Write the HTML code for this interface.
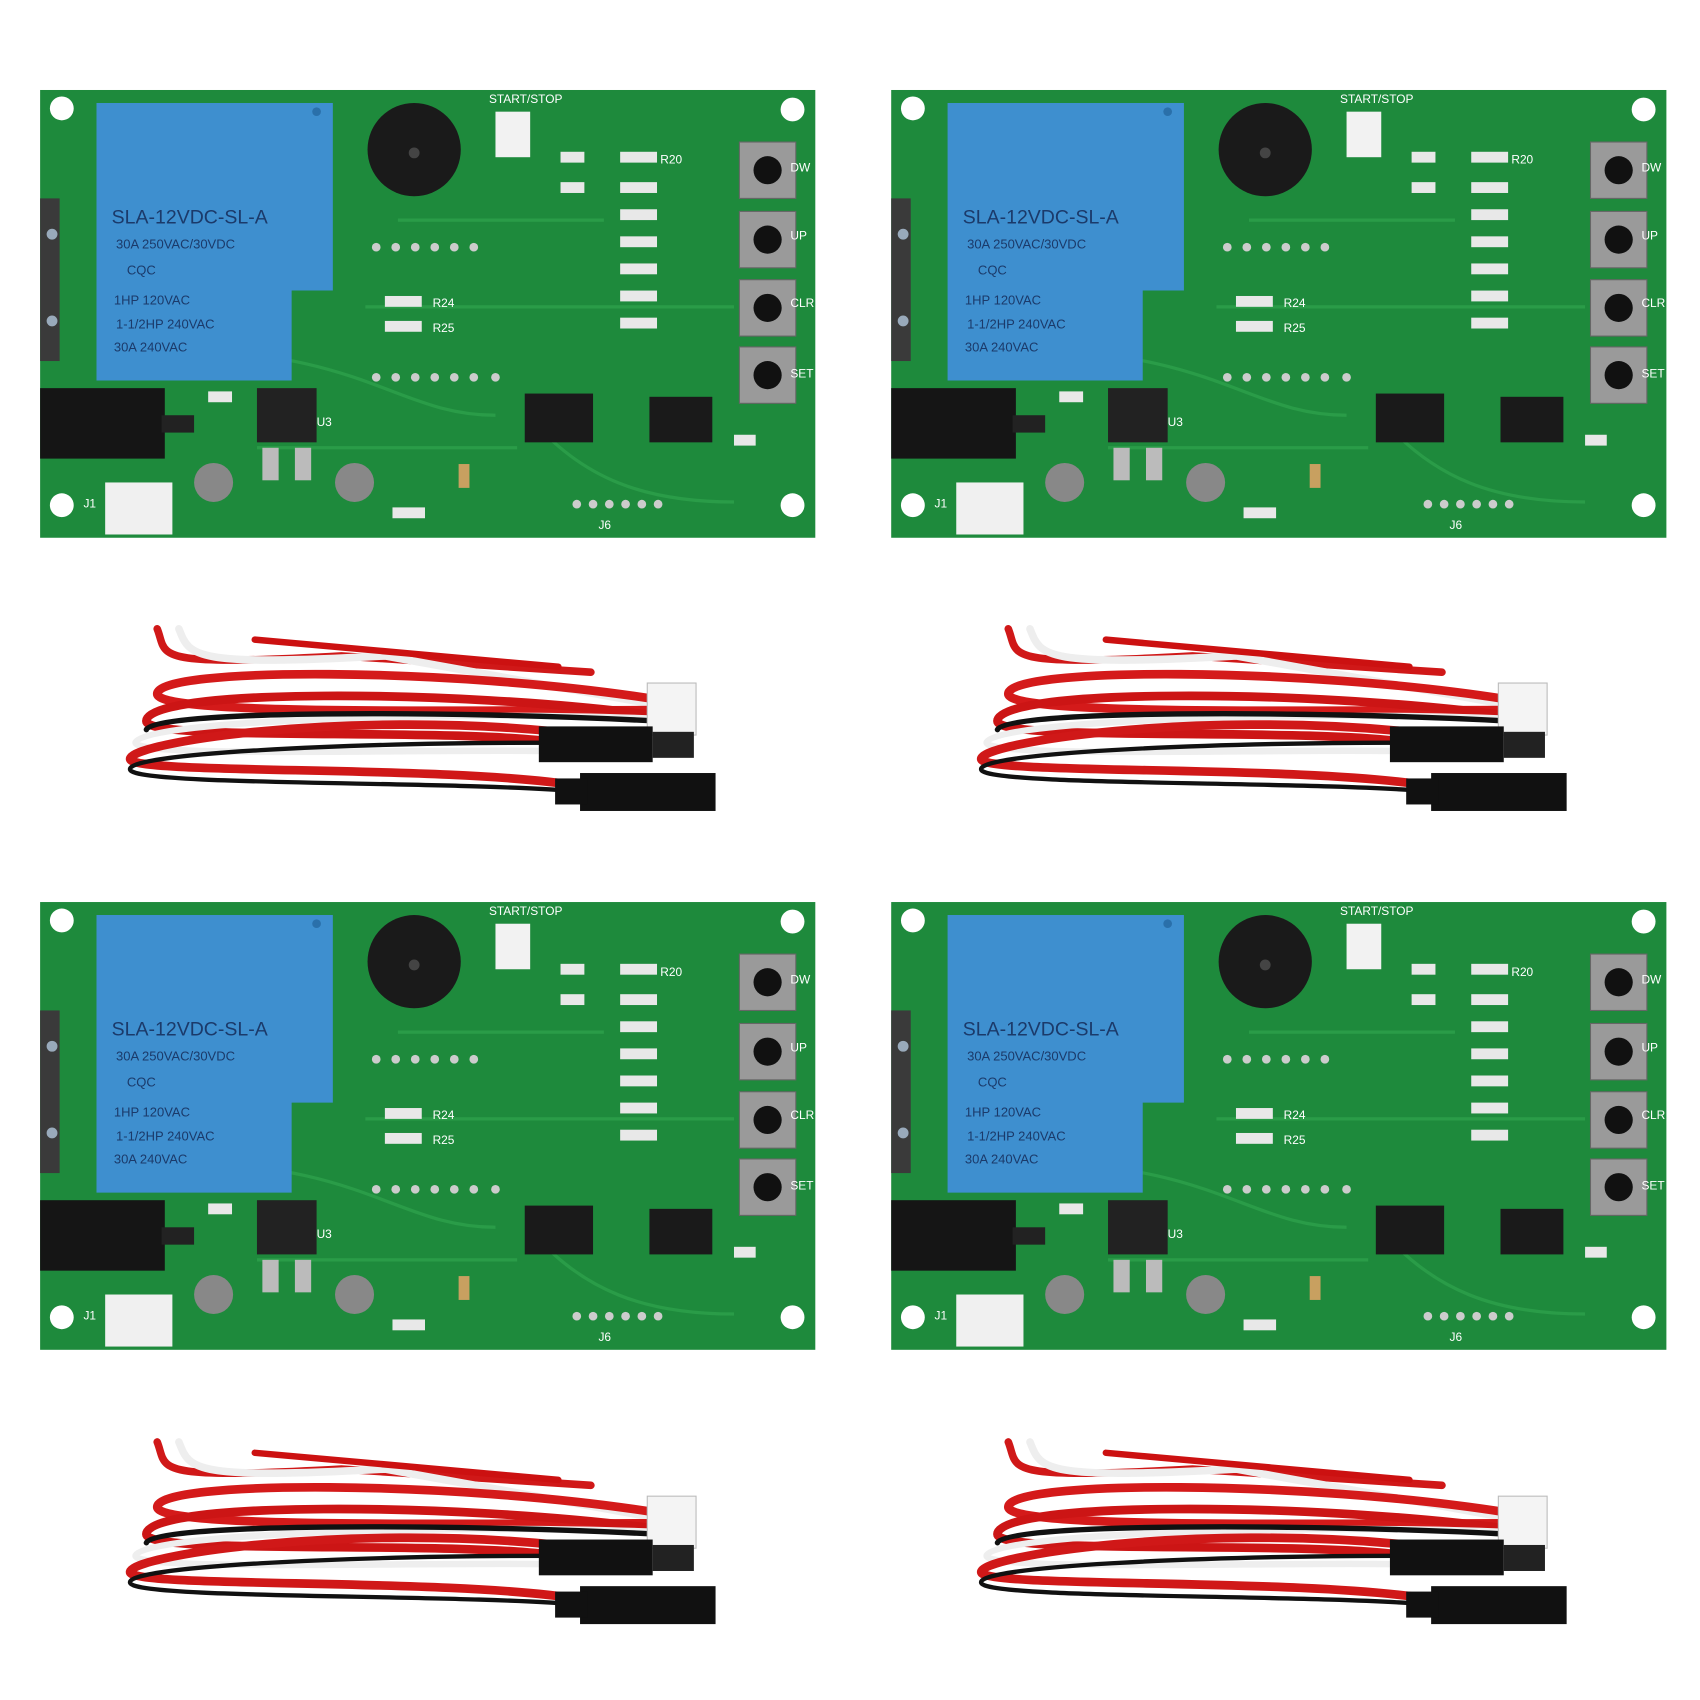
<!DOCTYPE html>
<html><head><meta charset="utf-8"><style>
html,body{margin:0;padding:0;background:#fff;}
svg{display:block}
text{font-family:"Liberation Sans",sans-serif}
</style></head><body>
<svg width="1700" height="1700" viewBox="0 0 1568 1568" xmlns="http://www.w3.org/2000/svg">
<defs>
<g id="boardshapes">
<rect x="0" y="0" width="715" height="413" fill="#1e8a3c"/>
<path d="M120 240 C300 240 330 300 420 300 M300 200 L640 200 M330 120 L520 120 M450 300 C500 360 560 380 640 380 M200 330 L440 330" stroke="#2a9c48" stroke-width="3" fill="none"/>
<circle cx="20" cy="17" r="11" fill="#fff"/><circle cx="694" cy="18" r="11" fill="#fff"/>
<circle cx="20" cy="383" r="11" fill="#fff"/><circle cx="694" cy="383" r="11" fill="#fff"/>
<rect x="0" y="100" width="18" height="150" fill="#3a3a3a"/>
<circle cx="11" cy="133" r="5" fill="#9ab"/><circle cx="11" cy="213" r="5" fill="#9ab"/>
<path d="M52 12 L270 12 L270 185 L232 185 L232 268 L52 268 Z" fill="#3e8fcf"/>
<circle cx="255" cy="20" r="4" fill="#2a70aa"/>
<circle cx="345" cy="55" r="43" fill="#1a1a1a"/><circle cx="345" cy="58" r="5" fill="#444"/>
<rect x="420" y="20" width="32" height="42" fill="#f2f2f2"/>
<g fill="#9a9a9a" stroke="#666"><rect x="645" y="48" width="52" height="52"/><rect x="645" y="112" width="52" height="52"/><rect x="645" y="175" width="52" height="52"/><rect x="645" y="237" width="52" height="52"/></g>
<g fill="#111"><circle cx="671" cy="74" r="13"/><circle cx="671" cy="138" r="13"/><circle cx="671" cy="201" r="13"/><circle cx="671" cy="263" r="13"/></g>
<g fill="#e8e8e8"><rect x="480" y="57" width="22" height="10"/><rect x="535" y="57" width="34" height="10"/><rect x="480" y="85" width="22" height="10"/><rect x="535" y="85" width="34" height="10"/><rect x="535" y="110" width="34" height="10"/><rect x="535" y="135" width="34" height="10"/><rect x="535" y="160" width="34" height="10"/><rect x="535" y="185" width="34" height="10"/><rect x="535" y="210" width="34" height="10"/><rect x="318" y="190" width="34" height="10"/><rect x="318" y="213" width="34" height="10"/><rect x="640" y="318" width="20" height="10"/><rect x="155" y="278" width="22" height="10"/><rect x="325" y="385" width="30" height="10"/></g>
<g fill="#ccc"><circle cx="310" cy="145" r="4"/><circle cx="328" cy="145" r="4"/><circle cx="346" cy="145" r="4"/><circle cx="364" cy="145" r="4"/><circle cx="382" cy="145" r="4"/><circle cx="400" cy="145" r="4"/><circle cx="310" cy="265" r="4"/><circle cx="328" cy="265" r="4"/><circle cx="346" cy="265" r="4"/><circle cx="364" cy="265" r="4"/><circle cx="382" cy="265" r="4"/><circle cx="400" cy="265" r="4"/><circle cx="420" cy="265" r="4"/><circle cx="495" cy="382" r="4"/><circle cx="510" cy="382" r="4"/><circle cx="525" cy="382" r="4"/><circle cx="540" cy="382" r="4"/><circle cx="555" cy="382" r="4"/><circle cx="570" cy="382" r="4"/></g>
<rect x="447" y="280" width="63" height="45" fill="#1a1a1a"/>
<rect x="562" y="283" width="58" height="42" fill="#1a1a1a"/>
<rect x="0" y="275" width="115" height="65" fill="#151515"/>
<rect x="60" y="362" width="62" height="48" fill="#f0f0f0"/>
<rect x="200" y="275" width="55" height="50" fill="#222"/>
<rect x="205" y="330" width="15" height="30" fill="#bbb"/><rect x="235" y="330" width="15" height="30" fill="#bbb"/>
<circle cx="160" cy="362" r="18" fill="#888"/><circle cx="290" cy="362" r="18" fill="#888"/>
<rect x="112" y="300" width="30" height="16" fill="#222"/>
<rect x="386" y="345" width="10" height="22" fill="#c8a060"/>
</g>
<g id="wireshapes" fill="none" stroke-linecap="round">
<path d="M30 5 C40 30 20 40 200 30 L430 45" stroke="#d01818" stroke-width="7"/>
<path d="M50 5 C60 30 60 40 240 30 L490 75" stroke="#eee" stroke-width="7"/>
<path d="M120 15 L400 40" stroke="#c11" stroke-width="6"/>
<path d="M490 70 C300 40 30 40 30 65 C30 85 300 80 490 80" stroke="#d41a1a" stroke-width="8"/>
<path d="M490 85 C300 60 20 60 20 90 C20 110 300 95 400 110" stroke="#cc1515" stroke-width="8"/>
<path d="M490 88 C300 80 10 90 10 110 C10 125 300 115 400 118" stroke="#eee" stroke-width="6"/>
<path d="M400 100 C200 80 5 110 5 125 C5 140 300 130 420 150" stroke="#d01818" stroke-width="8"/>
<path d="M490 90 C300 80 25 80 20 98" stroke="#111" stroke-width="5"/>
<path d="M400 110 C200 110 0 120 5 135 C10 150 300 145 420 155" stroke="#111" stroke-width="4"/>
<rect x="482" y="55" width="45" height="48" fill="#f4f4f4" stroke="#bbb"/>
<rect x="382" y="95" width="105" height="33" fill="#111"/><rect x="487" y="100" width="38" height="24" fill="#222"/>
<rect x="420" y="138" width="125" height="35" fill="#111"/><rect x="397" y="143" width="30" height="24" fill="#111"/>
</g>
</defs>
<g transform="translate(37,83)"><use href="#boardshapes"/></g>
<g transform="translate(822,83)"><use href="#boardshapes"/></g>
<g transform="translate(37,832)"><use href="#boardshapes"/></g>
<g transform="translate(822,832)"><use href="#boardshapes"/></g>
<g transform="translate(115,575)"><use href="#wireshapes"/></g>
<g transform="translate(900,575)"><use href="#wireshapes"/></g>
<g transform="translate(115,1325)"><use href="#wireshapes"/></g>
<g transform="translate(900,1325)"><use href="#wireshapes"/></g>
<g transform="translate(37,83)" fill="#1b3a6a">
<text x="66" y="123" font-size="18">SLA-12VDC-SL-A</text><text x="70" y="146" font-size="12">30A 250VAC/30VDC</text><text x="80" y="170" font-size="12">CQC</text><text x="68" y="198" font-size="12">1HP 120VAC</text><text x="70" y="220" font-size="12">1-1/2HP 240VAC</text><text x="68" y="241" font-size="12">30A 240VAC</text>
<g fill="#fff" font-size="11"><text x="414" y="12">START/STOP</text><text x="692" y="75">DW</text><text x="692" y="138">UP</text><text x="692" y="200">CLR</text><text x="692" y="265">SET</text><text x="572" y="68">R20</text><text x="362" y="200">R24</text><text x="362" y="223">R25</text><text x="255" y="310">U3</text><text x="515" y="405">J6</text><text x="40" y="385">J1</text></g></g>
<g transform="translate(822,83)" fill="#1b3a6a">
<text x="66" y="123" font-size="18">SLA-12VDC-SL-A</text><text x="70" y="146" font-size="12">30A 250VAC/30VDC</text><text x="80" y="170" font-size="12">CQC</text><text x="68" y="198" font-size="12">1HP 120VAC</text><text x="70" y="220" font-size="12">1-1/2HP 240VAC</text><text x="68" y="241" font-size="12">30A 240VAC</text>
<g fill="#fff" font-size="11"><text x="414" y="12">START/STOP</text><text x="692" y="75">DW</text><text x="692" y="138">UP</text><text x="692" y="200">CLR</text><text x="692" y="265">SET</text><text x="572" y="68">R20</text><text x="362" y="200">R24</text><text x="362" y="223">R25</text><text x="255" y="310">U3</text><text x="515" y="405">J6</text><text x="40" y="385">J1</text></g></g>
<g transform="translate(37,832)" fill="#1b3a6a">
<text x="66" y="123" font-size="18">SLA-12VDC-SL-A</text><text x="70" y="146" font-size="12">30A 250VAC/30VDC</text><text x="80" y="170" font-size="12">CQC</text><text x="68" y="198" font-size="12">1HP 120VAC</text><text x="70" y="220" font-size="12">1-1/2HP 240VAC</text><text x="68" y="241" font-size="12">30A 240VAC</text>
<g fill="#fff" font-size="11"><text x="414" y="12">START/STOP</text><text x="692" y="75">DW</text><text x="692" y="138">UP</text><text x="692" y="200">CLR</text><text x="692" y="265">SET</text><text x="572" y="68">R20</text><text x="362" y="200">R24</text><text x="362" y="223">R25</text><text x="255" y="310">U3</text><text x="515" y="405">J6</text><text x="40" y="385">J1</text></g></g>
<g transform="translate(822,832)" fill="#1b3a6a">
<text x="66" y="123" font-size="18">SLA-12VDC-SL-A</text><text x="70" y="146" font-size="12">30A 250VAC/30VDC</text><text x="80" y="170" font-size="12">CQC</text><text x="68" y="198" font-size="12">1HP 120VAC</text><text x="70" y="220" font-size="12">1-1/2HP 240VAC</text><text x="68" y="241" font-size="12">30A 240VAC</text>
<g fill="#fff" font-size="11"><text x="414" y="12">START/STOP</text><text x="692" y="75">DW</text><text x="692" y="138">UP</text><text x="692" y="200">CLR</text><text x="692" y="265">SET</text><text x="572" y="68">R20</text><text x="362" y="200">R24</text><text x="362" y="223">R25</text><text x="255" y="310">U3</text><text x="515" y="405">J6</text><text x="40" y="385">J1</text></g></g>
</svg>
</body></html>
